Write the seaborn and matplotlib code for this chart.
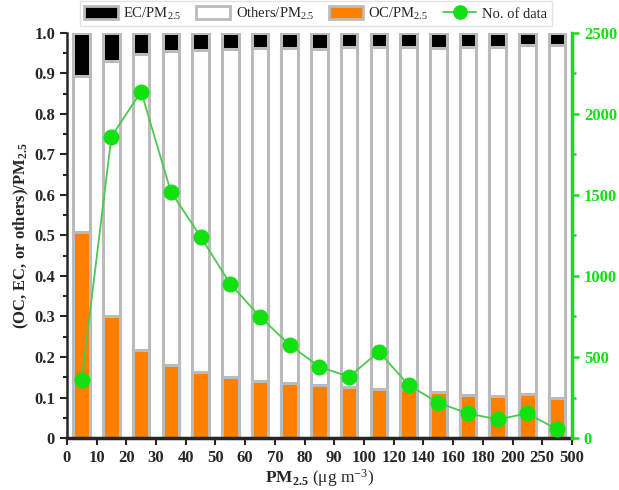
import numpy as np
import pandas as pd
import matplotlib
matplotlib.use('Agg')
import matplotlib.pyplot as plt
import seaborn as sns
from matplotlib.patches import Patch
from matplotlib.lines import Line2D
from matplotlib.ticker import MultipleLocator

# PM2.5 bin edges (ug m-3) and per-bin values
edges = ['0', '10', '20', '30', '40', '50', '60', '70', '80', '90', '100',
         '120', '140', '160', '180', '200', '250', '500']
bins = [f'{a}-{b}' for a, b in zip(edges[:-1], edges[1:])]
oc_ratio = [0.508, 0.302, 0.218, 0.181, 0.163, 0.150, 0.142, 0.137, 0.130,
            0.127, 0.121, 0.121, 0.114, 0.106, 0.105, 0.108, 0.098]
ec_ratio = [0.106, 0.069, 0.052, 0.044, 0.042, 0.040, 0.037, 0.037, 0.040,
            0.036, 0.036, 0.036, 0.037, 0.036, 0.034, 0.031, 0.029]
n_data = [358, 1860, 2138, 1520, 1243, 951, 749, 574, 440,
          378, 533, 327, 218, 152, 115, 152, 54]

df = pd.DataFrame({'bin': bins, 'OC': oc_ratio, 'EC': ec_ratio, 'n': n_data})
df['Others'] = 1 - df['OC'] - df['EC']
# stacked layers drawn back to front
df['top_ec'] = df['OC'] + df['Others'] + df['EC']
df['top_others'] = df['OC'] + df['Others']

sns.set_style('ticks')
plt.rcParams['font.family'] = ['Liberation Serif', 'DejaVu Serif']
plt.rcParams['mathtext.fontset'] = 'custom'
plt.rcParams['mathtext.rm'] = 'Liberation Serif'
plt.rcParams['mathtext.it'] = 'Liberation Serif:italic'
plt.rcParams['mathtext.bf'] = 'Liberation Serif:bold'

orange = '#ff8000'
edge = '#bbbbbb'
green = '#11e011'
line_green = '#4cc94c'

fig = plt.figure(figsize=(6.19, 4.90), dpi=100)
ax = fig.add_axes([0.108, 0.106, 0.816, 0.827])

bar_kw = dict(x='bin', order=bins, width=0.56, saturation=1,
              edgecolor=edge, linewidth=2.2, ax=ax, errorbar=None)
sns.barplot(data=df, y='top_ec', color='black', **bar_kw)
sns.barplot(data=df, y='top_others', color='white', **bar_kw)
sns.barplot(data=df, y='OC', color=orange, **bar_kw)

ax.set_xlim(-0.5, len(bins) - 0.5)
ax.set_xticks(np.arange(len(edges)) - 0.5)
ax.set_xticklabels(edges)
ax.set_ylim(0, 1.0)
ax.set_yticks(np.arange(0, 1.01, 0.1))
ax.set_yticklabels(['0'] + [f'{v:.1f}' for v in np.arange(0.1, 1.01, 0.1)])
ax.yaxis.set_minor_locator(MultipleLocator(0.05))
ax.tick_params(axis='both', which='major', direction='out', length=5, width=1.5,
               labelsize=12)
ax.tick_params(axis='y', which='minor', direction='out', length=3, width=1.5)
for lab in ax.get_xticklabels() + ax.get_yticklabels():
    lab.set_fontweight('bold')
ax.set_xlabel(r'$\mathbf{PM_{2.5}}$ (μg m$^{-3}$)', fontsize=12.5, labelpad=1)
ax.set_ylabel(r'(OC, EC, or others)/PM$_{\mathbf{2.5}}$', fontsize=12,
              fontweight='bold', labelpad=2)
ax.spines['top'].set_visible(False)
ax.spines['right'].set_visible(False)
ax.spines['left'].set_linewidth(1.8)
ax.spines['bottom'].set_linewidth(2.5)

ax2 = ax.twinx()
sns.pointplot(data=df, x='bin', y='n', order=bins, ax=ax2, color=line_green,
              errorbar=None, marker='', linewidth=1.3)
sns.pointplot(data=df, x='bin', y='n', order=bins, ax=ax2, color=green,
              errorbar=None, marker='o', markersize=9.5, linestyle='none')
ax2.set_xlim(-0.5, len(bins) - 0.5)
ax2.set_ylim(0, 2500)
ax2.set_yticks(np.arange(0, 2501, 500))
ax2.yaxis.set_minor_locator(MultipleLocator(250))
ax2.set_ylabel('')
ax2.tick_params(axis='y', which='major', colors=green, direction='out',
                length=5, width=1.8, labelsize=12)
ax2.tick_params(axis='y', which='minor', colors=green, direction='out',
                length=3, width=1.8)
for lab in ax2.get_yticklabels():
    lab.set_fontweight('bold')
for s in ['top', 'left', 'bottom']:
    ax2.spines[s].set_visible(False)
ax2.spines['right'].set_color(green)
ax2.spines['right'].set_linewidth(2.5)

handles = [
    Patch(facecolor='black', edgecolor=edge, linewidth=2, label='EC/PM$_{2.5}$'),
    Patch(facecolor='white', edgecolor=edge, linewidth=2, label='Others/PM$_{2.5}$'),
    Patch(facecolor=orange, edgecolor=edge, linewidth=2, label='OC/PM$_{2.5}$'),
    Line2D([], [], color=line_green, marker='o', markerfacecolor=green,
           markeredgecolor=green, markersize=9.5, lw=1.3, label='No. of data'),
]
fig.legend(handles=handles, loc='upper center', bbox_to_anchor=(0.51, 1.012),
           ncol=4, fontsize=10.5, frameon=True, fancybox=False,
           edgecolor='#dddddd', handlelength=2.3, handleheight=1.0,
           columnspacing=1.0, handletextpad=0.4, borderpad=0.3)

fig.savefig('out.png', dpi=100)
